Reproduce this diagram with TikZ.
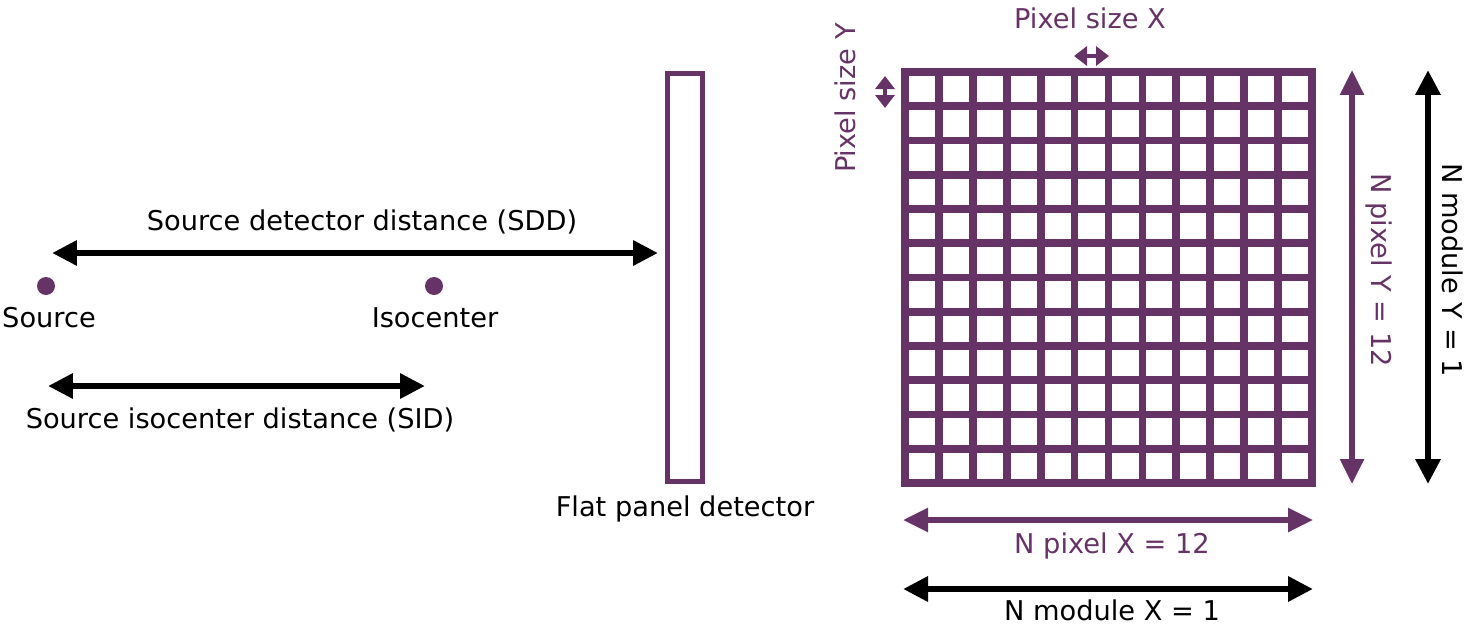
\documentclass[tikz,border=0pt]{standalone}
\usepackage{fontspec}
\setmainfont{DejaVu Sans}
\usepackage{xcolor}
\definecolor{plum}{RGB}{102,51,102}
\usetikzlibrary{arrows.meta, positioning}

\begin{document}
\begin{tikzpicture}[x=0.02cm, y=-0.02cm,
    lbl/.style={font=\fontsize{15.5}{18}\selectfont, inner sep=0pt},
    plbl/.style={lbl, text=plum},
    dot/.style={circle, fill=plum, minimum size=0.36cm, inner sep=0pt},
    dimarrow/.style={{Triangle[length=0.5cm, width=0.48cm]}-{Triangle[length=0.5cm, width=0.48cm]}, line width=3.6pt},
    pixarrow/.style={plum, {Triangle[length=0.5cm, width=0.46cm]}-{Triangle[length=0.5cm, width=0.46cm]}, line width=3.2pt},
    smallarrow/.style={plum, {Triangle[length=0.26cm, width=0.38cm]}-{Triangle[length=0.26cm, width=0.38cm]}, line width=2.6pt}]
  \useasboundingbox (0,0) rectangle (1470,629);

  % source side
  \node[dot] (src) at (46,286) {};
  \node[dot] (iso) at (434,286) {};
  \node[lbl] (srclbl) at (49,318) {Source};
  \node[lbl] (isolbl) at (435,318) {Isocenter};

  \coordinate (sddL) at (52,253);
  \coordinate (sddR) at (658,253);
  \draw[dimarrow] (sddL) -- (sddR);
  \node[lbl] (sdd) at (362,222) {Source detector distance (SDD)};

  \coordinate (sidL) at (48,386);
  \coordinate (sidR) at (425,386);
  \draw[dimarrow] (sidL) -- (sidR);
  \node[lbl] (sid) at (240,420) {Source isocenter distance (SID)};

  % flat panel
  \node[draw=plum, line width=3pt, minimum width=0.7cm, minimum height=8.16cm,
        inner sep=0pt] (panel) at (685,277.5) {};
  \node[lbl] (panellbl) at (685,509) {Flat panel detector};

  % detector grid, 12 x 12 pixels
  \draw[plum, line width=4.4pt] (905,72) rectangle (1312,483);
  \foreach \i in {1,...,11} {
    \draw[plum, line width=4.4pt] ({905+\i*407/12},72) -- ({905+\i*407/12},483);
    \draw[plum, line width=4.4pt] (905,{72+\i*411/12}) -- (1312,{72+\i*411/12});
  }

  \coordinate (psxL) at (1074,56);
  \coordinate (psxR) at (1109,56);
  \draw[smallarrow] (psxL) -- (psxR);
  \node[plbl] (psx) at (1090,18) {Pixel size X};

  \coordinate (psyT) at (885,76);
  \coordinate (psyB) at (885,108);
  \draw[smallarrow] (psyT) -- (psyB);
  \node[plbl, rotate=90] (psy) at (845,98) {Pixel size Y};

  \coordinate (npyT) at (1352,70);
  \coordinate (npyB) at (1352,484);
  \draw[pixarrow] (npyT) -- (npyB);
  \node[plbl, rotate=-90] (npy) at (1379,270) {N pixel Y = 12};

  \coordinate (nmyT) at (1428,70);
  \coordinate (nmyB) at (1428,484);
  \draw[dimarrow] (nmyT) -- (nmyB);
  \node[lbl, rotate=-90] (nmy) at (1453,270) {N module Y = 1};

  \coordinate (npxL) at (903,520);
  \coordinate (npxR) at (1313,520);
  \draw[pixarrow] (npxL) -- (npxR);
  \node[plbl] (npx) at (1112,546) {N pixel X = 12};

  \coordinate (nmxL) at (903,589);
  \coordinate (nmxR) at (1313,589);
  \draw[dimarrow] (nmxL) -- (nmxR);
  \node[lbl] (nmx) at (1112,610) {N module X = 1};
\end{tikzpicture}
\end{document}
